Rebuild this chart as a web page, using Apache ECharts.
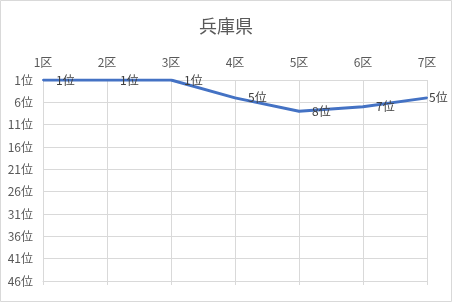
<!DOCTYPE html>
<html>
<head>
<meta charset="utf-8">
<script src="https://cdn.jsdelivr.net/npm/echarts@6/dist/echarts.min.js"></script>
<style>
  html, body { margin: 0; padding: 0; background: #fff; }
  #chart { width: 452px; height: 302px; }
</style>
</head>
<body>
<div id="chart"></div>
<script>
// Districts of Hyogo and their rank in each
const districts = ['1区', '2区', '3区', '4区', '5区', '6区', '7区'];
const ranks = [1, 1, 1, 5, 8, 7, 5];
const rankTicks = [1, 6, 11, 16, 21, 26, 31, 36, 41, 46];

const FONT = '"Noto Sans CJK JP", "Noto Sans", sans-serif';
const chart = echarts.init(document.getElementById('chart'));

// the last label sits closer to its point so it stays inside the frame
const points = ranks.map((v, i) =>
  i === ranks.length - 1 ? { value: v, label: { distance: 1 } } : v);

chart.setOption({
  animation: false,
  backgroundColor: '#fff',
  title: {
    text: '兵庫県',
    left: 'center',
    top: 12,
    textStyle: { color: '#595959', fontSize: 18, fontWeight: 'normal', fontFamily: FONT }
  },
  graphic: [{
    type: 'rect',
    shape: { x: 0.5, y: 0.5, width: 451, height: 301 },
    style: { fill: 'none', stroke: '#d9d9d9', lineWidth: 1 },
    silent: true
  }],
  grid: { left: 43, right: 25, top: 80, bottom: 21 },
  xAxis: [{
    type: 'category',
    data: districts,
    position: 'top',
    boundaryGap: false,
    axisLine: { show: false },
    axisTick: { show: false },
    axisLabel: { color: '#595959', fontSize: 12, fontFamily: FONT, margin: 12 },
    splitLine: { show: true, lineStyle: { color: '#d9d9d9', width: 1 } }
  }, {
    type: 'category',
    data: districts,
    position: 'bottom',
    boundaryGap: false,
    axisLine: { show: true, lineStyle: { color: '#d9d9d9' } },
    axisTick: { show: true, length: 4, lineStyle: { color: '#d9d9d9' } },
    axisLabel: { show: false },
    splitLine: { show: false }
  }],
  yAxis: {
    type: 'value',
    inverse: true,
    min: rankTicks[0],
    max: rankTicks[rankTicks.length - 1],
    interval: rankTicks[1] - rankTicks[0],
    axisLine: { show: false },
    axisTick: { show: false },
    axisLabel: {
      color: '#595959', fontSize: 12, fontFamily: FONT, margin: 10,
      formatter: v => v + '位'
    },
    splitLine: { show: true, lineStyle: { color: '#d9d9d9', width: 1 } }
  },
  series: [{
    type: 'line',
    data: points,
    symbol: 'circle',
    symbolSize: 2,
    showSymbol: true,
    itemStyle: { color: '#4472C4', borderWidth: 0 },
    lineStyle: { color: '#4472C4', width: 3 },
    label: {
      show: true,
      position: 'right',
      distance: 12,
      color: '#404040',
      fontSize: 12,
      fontFamily: FONT,
      formatter: p => p.value + '位'
    }
  }]
});
</script>
</body>
</html>
